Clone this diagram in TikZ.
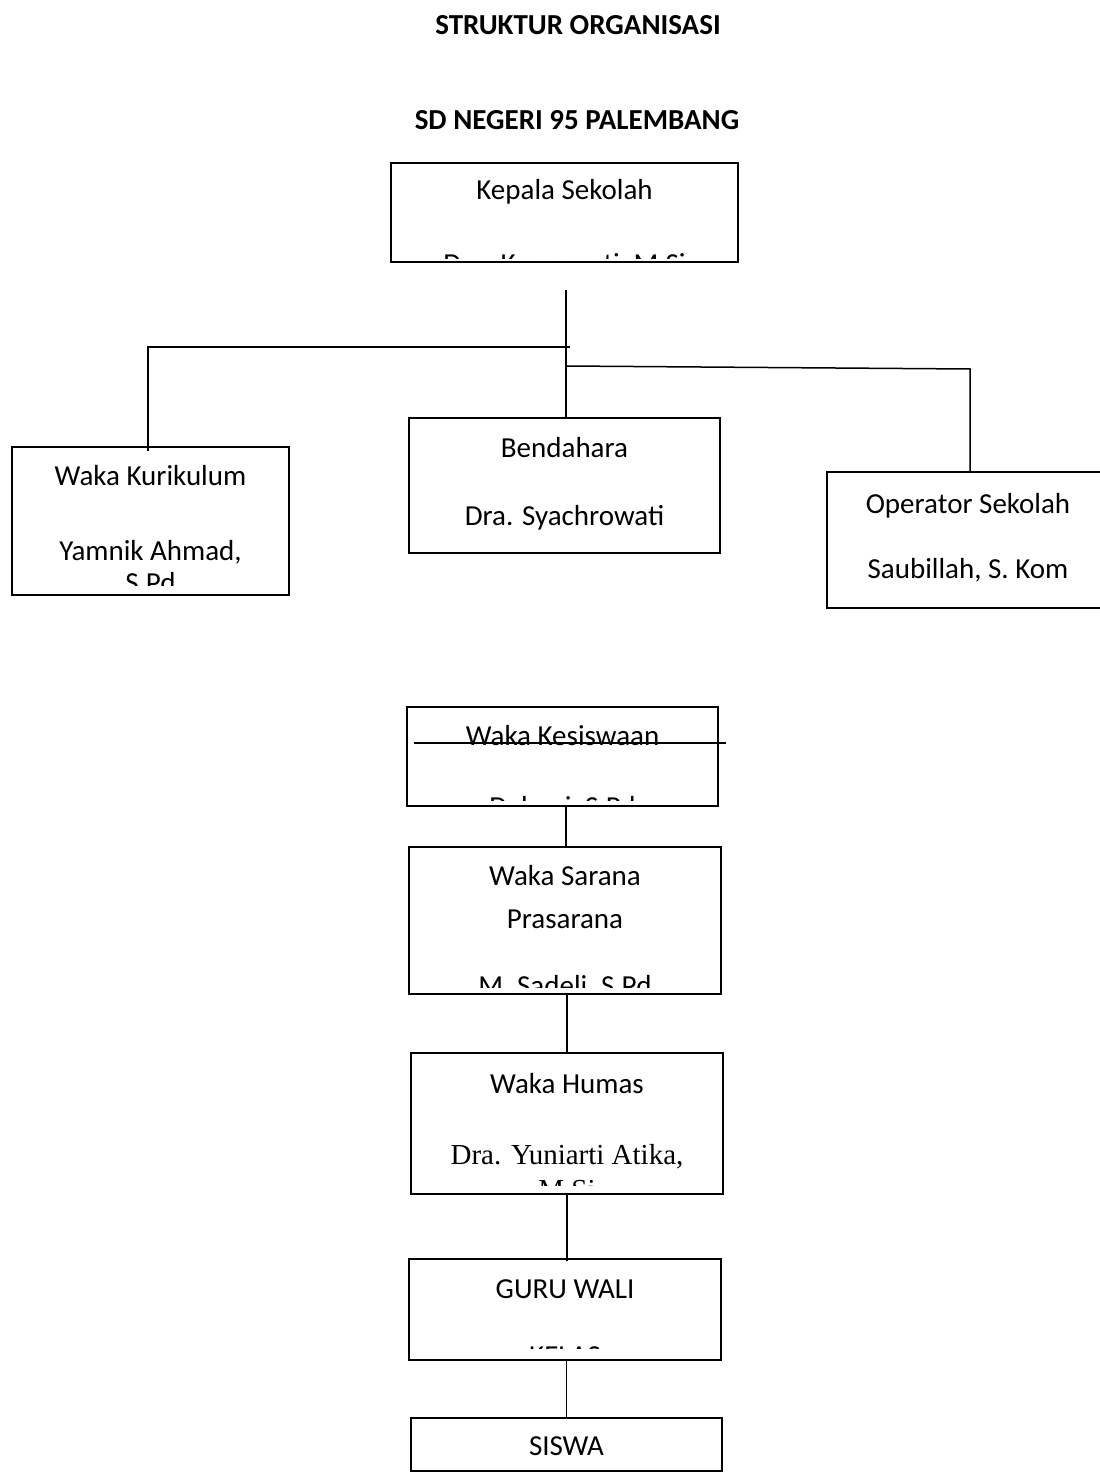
\documentclass[tikz,border=0pt]{standalone}
\usepackage{fontspec}
\setmainfont{Carlito}
\newfontfamily\timesfont{Liberation Serif}
\usetikzlibrary{positioning}
\tikzset{
  orgbox/.style={draw, line width=1pt, inner sep=0pt},
  orgline/.style={line width=0.75pt},
  boxtext/.style={anchor=base, inner sep=0pt, font=\fontsize{14.5}{17}\selectfont},
  headtext/.style={anchor=base, inner sep=0pt, font=\fontsize{14.5}{17}\selectfont\bfseries},
}

\begin{document}
\begin{tikzpicture}[x=0.5pt, y=-0.5pt]
  \useasboundingbox[fill=white] (0,0) rectangle (1099,1481);

  % judul
  \node[headtext] (judul) at (578,35) {STRUKTUR ORGANISASI};
  \node[headtext] (sekolah) at (577,130) {SD NEGERI 95 PALEMBANG};

  % kotak-kotak
  \node[orgbox, minimum width=173.5pt, minimum height=49.5pt] (kepala) at (564.5,212.5) {};
  \node[orgbox, minimum width=138.5pt, minimum height=74pt] (kurikulum) at (150.5,521) {};
  \node[orgbox, minimum width=155.5pt, minimum height=67.5pt] (bendahara) at (564.5,485.5) {};
  \node[orgbox, minimum width=146pt, minimum height=68pt] (operator) at (973,540) {};
  \node[orgbox, minimum width=155.5pt, minimum height=49.5pt] (kesiswaan) at (562.5,756.5) {};
  \node[orgbox, minimum width=156pt, minimum height=73.5pt] (sarana) at (565,920.5) {};
  \node[orgbox, minimum width=156pt, minimum height=70.5pt] (humas) at (567,1123.5) {};
  \node[orgbox, minimum width=156pt, minimum height=50.5pt] (guru) at (565,1309.5) {};
  \node[orgbox, minimum width=155.5pt, minimum height=26.5pt] (siswa) at (566.5,1444.5) {};

  % teks di dalam kotak (terpotong di bawah)
  \begin{scope}
    \clip (393,165) rectangle (736,259);
    \node[boxtext] (kepalaA) at (564.5,200) {Kepala Sekolah};
    \node[boxtext] (kepalaB) at (564.5,274) {Dra. Kurnawati, M.Si};
  \end{scope}
  \begin{scope}
    \clip (14,449) rectangle (287,585);
    \node[boxtext] (kurikulumA) at (150.5,485) {Waka Kurikulum};
    \node[boxtext] (kurikulumB) at (150.5,560) {Yamnik Ahmad,};
    \node[boxtext] (kurikulumC) at (150.5,592) {S.Pd};
  \end{scope}
  \node[boxtext] (bendaharaA) at (564.5,457) {Bendahara};
  \node[boxtext] (bendaharaB) at (564.5,525) {Dra. Syachrowati};
  \node[boxtext] (operatorA) at (968,513) {Operator Sekolah};
  \node[boxtext] (operatorB) at (968,578) {Saubillah, S. Kom};
  \begin{scope}
    \clip (409,709) rectangle (716,800);
    \node[boxtext] (kesiswaanA) at (562.5,745) {Waka Kesiswaan};
    \node[boxtext] (kesiswaanB) at (562.5,816) {Dalami, S.Pd};
  \end{scope}
  \begin{scope}
    \clip (411,849) rectangle (719,987);
    \node[boxtext] (saranaA) at (565,885) {Waka Sarana};
    \node[boxtext] (saranaB) at (565,928) {Prasarana};
    \node[boxtext] (saranaC) at (565,995) {M. Sadeli, S.Pd};
  \end{scope}
  \begin{scope}
    \clip (413,1055) rectangle (721,1185);
    \node[boxtext] (humasA) at (567,1093) {Waka Humas};
    \node[boxtext, font=\timesfont\fontsize{14.5}{17}\selectfont] (humasB) at (567,1164) {Dra. Yuniarti Atika,};
    \node[boxtext, font=\timesfont\fontsize{14.5}{17}\selectfont] (humasC) at (567,1199) {M.Si};
  \end{scope}
  \begin{scope}
    \clip (411,1261) rectangle (719,1348);
    \node[boxtext] (guruA) at (565,1298) {GURU WALI};
    \node[boxtext] (guruB) at (565,1365) {KELAS};
  \end{scope}
  \node[boxtext] (siswaA) at (566.5,1455) {SISWA};

  % garis penghubung
  \coordinate (pusat) at (566,290);
  \coordinate (kiri) at (148,347);
  \coordinate (kiriujung) at (570,347);
  \coordinate (kanan) at (566,366);
  \coordinate (kananujung) at (970,369);
  \draw[orgline] (pusat) -- (bendahara.north -| pusat);
  \draw[orgline] (kiriujung) -- (kiri) -- ([yshift=-2.5pt]kiri |- kurikulum.north);
  \draw[orgline] (kanan) -- (kananujung) -- (kananujung |- operator.north);
  \draw[orgline] ([xshift=4pt]kesiswaan.west |- 0,743) -- ([xshift=3.5pt]kesiswaan.east |- 0,743);
  \draw[orgline] ([xshift=0.5pt]sarana.north |- kesiswaan.south) -- ([xshift=0.5pt]sarana.north);
  \draw[orgline] (humas.north |- sarana.south) -- (humas.north);
  \draw[orgline] (humas.south) -- ([yshift=-1.5pt]humas.south |- guru.north);
  \draw[orgline] (guru.south -| siswa.north) -- (siswa.north);
\end{tikzpicture}
\end{document}
